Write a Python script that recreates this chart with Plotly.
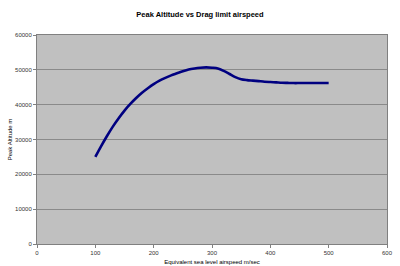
import plotly.graph_objects as go

airspeed = [100, 110, 120, 130, 140, 150, 160, 170, 180, 190, 200, 210, 220, 230, 240,
            250, 260, 270, 280, 290, 300, 310, 320, 330, 340, 350, 360, 370, 380, 390,
            400, 410, 420, 430, 440, 450, 460, 470, 480, 490, 500]
altitude = [25000, 28100, 31000, 33700, 36100, 38300, 40200, 41900, 43400, 44700,
            45900, 46900, 47700, 48400, 49000, 49600, 50100, 50400, 50600, 50700,
            50600, 50400, 49700, 48800, 47900, 47300, 47050, 46900, 46750, 46600,
            46500, 46400, 46300, 46250, 46200, 46200, 46200, 46200, 46200, 46200, 46200]

x_ticks = [0, 100, 200, 300, 400, 500, 600]
y_ticks = [0, 10000, 20000, 30000, 40000, 50000, 60000]
y_tick_labels = ["0", "10000", "20000", "30000", "40000", "50000", "60000"]

fig = go.Figure()
fig.add_trace(go.Scatter(x=airspeed, y=altitude, mode="lines",
                         line=dict(color="#000080", width=2.6, shape="spline", smoothing=0.8),
                         showlegend=False))

font = "Liberation Sans, Arial, sans-serif"
fig.update_layout(
    width=400, height=266,
    margin=dict(l=37, r=13, t=35, b=22),
    paper_bgcolor="white", plot_bgcolor="#C0C0C0",
    title=dict(text="<b>Peak Altitude vs Drag limit airspeed</b>", x=0.5, xanchor="center",
               y=1 - 14 / 266, yanchor="middle",
               font=dict(family=font, size=7.5, color="black")),
    xaxis=dict(range=[0, 600], tickvals=x_ticks, ticks="outside", ticklen=3,
               tickcolor="#808080", showline=True, linecolor="#808080", mirror=True,
               showgrid=False, zeroline=False, automargin=False,
               tickfont=dict(family=font, size=6, color="#333333"),
               title=dict(text="Equivalent sea level airspeed m/sec", standoff=4,
                          font=dict(family=font, size=6, color="black"))),
    yaxis=dict(range=[0, 60000], tickvals=y_ticks, ticktext=y_tick_labels,
               ticks="outside", ticklen=3, automargin=False,
               tickcolor="#808080", showline=True, linecolor="#808080", mirror=True,
               showgrid=True, gridcolor="#8a8a8a", gridwidth=1, zeroline=False,
               tickfont=dict(family=font, size=6, color="#333333"),
               title=dict(text="Peak Altitude m", standoff=2,
                          font=dict(family=font, size=6, color="black"))),
)
fig.write_html("out.html")
